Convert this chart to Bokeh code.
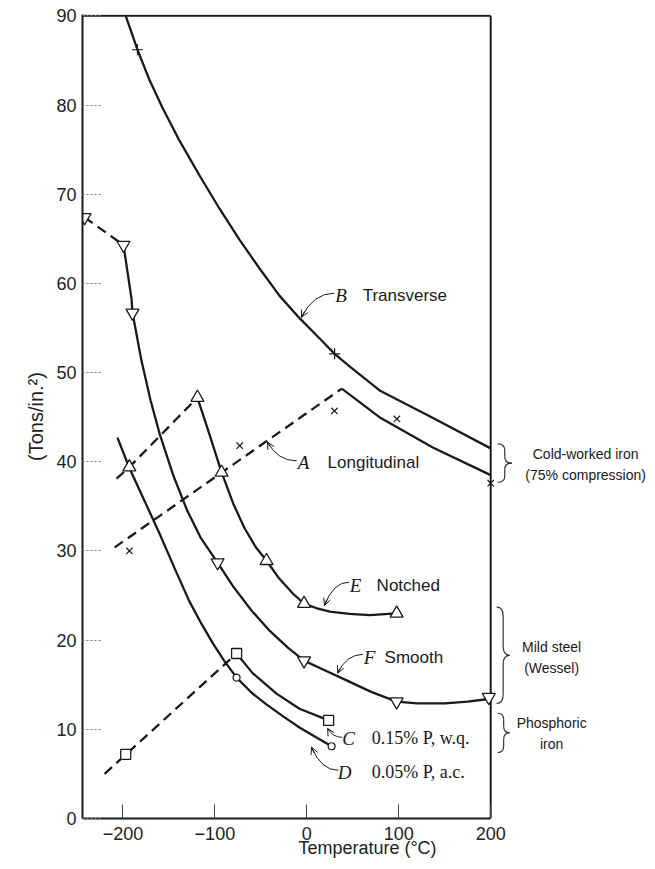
from bokeh.plotting import figure
from bokeh.models import Range1d, FixedTicker, Arrow, OpenHead
from bokeh.core.properties import value
from bokeh.embed import file_html
from bokeh.resources import INLINE

# ---------------- data ----------------
x_ticks = [-200, -100, 0, 100, 200]
x_tick_labels = ["\u2212200", "\u2212100", "0", "100", "200"]
y_ticks = [0, 10, 20, 30, 40, 50, 60, 70, 80, 90]

# B  Transverse (cold-worked iron)
b_x = [-197, -184.2, -171.1, -157.0, -138.5, -116.7, -95.1, -73.3, -51.6, -29.6, -7.9,
       16.1, 30.2, 46.5, 79.2, 133.6, 200]
b_y = [90.0, 86.2, 82.8, 79.7, 76.0, 72.1, 68.4, 64.9, 61.7, 58.6, 56.1,
       53.6, 52.1, 50.7, 48.0, 45.1, 41.5]
b_pts_x = [-184.2, 30.2]
b_pts_y = [86.2, 52.1]

# A  Longitudinal (cold-worked iron)
a_dash_x = [-209, 38]
a_dash_y = [30.4, 48.2]
a_x = [38, 79, 137, 200]
a_y = [48.2, 45.0, 41.6, 38.5]
a_pts_x = [-193, -73, 30, 98, 200]
a_pts_y = [30.0, 41.8, 45.7, 44.8, 37.6]

# E  Notched (mild steel)
e_dash_x = [-207, -193, -119]
e_dash_y = [38.1, 39.4, 47.2]
e_x = [-119, -106, -92.7, -80, -68, -56, -43.8, -30, -15, -3, 10, 25, 46.5, 68.3, 97.7]
e_y = [47.2, 43.1, 38.8, 35.3, 32.6, 30.5, 28.9, 26.9, 25.2, 24.1, 23.6, 23.2, 22.95, 22.8, 23.0]
e_pts_x = [-193, -119, -92.7, -43.8, -3, 97.7]
e_pts_y = [39.4, 47.2, 38.8, 28.9, 24.1, 23.0]

# F  Smooth (mild steel)
f_dash_x = [-241.8, -199.4]
f_dash_y = [67.4, 64.3]
f_x = [-199.4, -190.7, -189.6, -180, -170, -160, -145, -130, -115, -97.1, -80, -60, -40,
       -20, -3, 20, 45, 70, 97.7, 120, 150, 175, 198]
f_y = [64.3, 58.3, 56.7, 51.4, 46.9, 43.1, 38.4, 34.5, 31.4, 28.7, 26.0, 23.3, 21.0,
       19.1, 17.7, 16.6, 15.4, 14.2, 13.1, 12.9, 12.9, 13.1, 13.4]
f_pts_x = [-241.8, -199.4, -189.6, -97.1, -3, 97.7, 198]
f_pts_y = [67.4, 64.3, 56.7, 28.7, 17.7, 13.1, 13.6]

# C  0.15% P, w.q. (phosphoric iron)
c_dash_x = [-220, -76.4]
c_dash_y = [5.0, 18.5]
c_x = [-76.4, -59, -33, -8, 23.7]
c_y = [18.5, 16.3, 14.0, 12.3, 11.0]
c_pts_x = [-197, -76.4, 23.7]
c_pts_y = [7.2, 18.5, 11.0]

# D  0.05% P, a.c. (phosphoric iron)
d_x = [-206, -193, -176, -160, -144, -128, -115, -102, -90, -76.4, -60, -44, -25, -8, 10, 27]
d_y = [42.7, 39.3, 35.5, 31.9, 28.1, 24.4, 21.9, 19.6, 17.7, 15.8, 14.1, 12.8, 11.4, 10.2, 9.1, 8.1]
d_pts_x = [-76.4, 27]
d_pts_y = [15.8, 8.1]

# curve labels
letters = ["B", "A", "E", "F", "C", "D"]
letters_x = [37.3, -3.5, 53.1, 68.3, 45.4, 41.1]
letters_y = [58.6, 39.9, 26.1, 18.0, 9.0, 5.2]
words = ["Transverse", "Longitudinal", "Notched", "Smooth"]
words_x = [60.7, 22.6, 75.9, 84.6]
words_y = [58.6, 39.9, 26.1, 18.0]
serif_words = ["0.15% P, w.q.", "0.05% P, a.c."]
serif_x = [70.5, 70.5]
serif_y = [9.0, 5.2]

# pointer arrows (label -> curve)
ptr_x0 = [30.0, -11.0, 46.0, 61.0, 38.5, 34.5]
ptr_y0 = [58.9, 40.1, 26.5, 18.4, 9.1, 5.4]
ptr_x1 = [-5.7, -42.7, 19.3, 33.5, 22.6, 5.2]
ptr_y1 = [56.2, 42.2, 23.9, 16.3, 10.1, 8.0]

# side groups (braces + captions)
grp_text = ["Cold-worked iron", "(75% compression)", "Mild steel", "(Wessel)", "Phosphoric", "iron"]
grp_x = [303.3, 303.3, 266.3, 266.3, 266.3, 266.3]
grp_y = [40.9, 38.5, 19.2, 16.9, 10.7, 8.4]
brace_x0 = [207.6, 206.5, 207.6]
brace_tip = [223.0, 220.6, 220.6]
brace_lo = [37.7, 12.9, 7.4]
brace_hi = [42.0, 23.7, 11.8]

# ---------------- figure ----------------
INK = "#1a1a1a"
p = figure(width=652, height=866, output_backend="svg", toolbar_location=None,
           x_range=Range1d(-244, 376), y_range=Range1d(0, 90.15),
           min_border_left=82, min_border_right=0, min_border_top=14, min_border_bottom=48)
p.outline_line_color = None
p.xgrid.visible = False
p.ygrid.visible = False

# frame (top and right sides)
p.segment(x0=[-244, 200], y0=[90, 0], x1=[200, 200], y1=[90, 90], line_color=INK, line_width=2)

# axes
p.xaxis.ticker = FixedTicker(ticks=x_ticks)
p.xaxis.major_label_overrides = dict(zip(x_ticks, x_tick_labels))
p.xaxis.bounds = (-244, 200)
p.yaxis.ticker = FixedTicker(ticks=y_ticks)
for ax in (p.xaxis[0], p.yaxis[0]):
    ax.axis_line_width = 2
    ax.axis_line_color = INK
    ax.major_tick_out = 0
    ax.minor_tick_line_color = None
    ax.major_label_text_font = "Liberation Sans"
    ax.major_label_text_font_size = "18px"
    ax.major_label_text_color = "#222222"
    ax.axis_label_text_font = "Liberation Sans"
    ax.axis_label_text_font_size = "18px"
    ax.axis_label_text_font_style = "normal"
    ax.axis_label_text_color = "#222222"
p.yaxis.axis_label_text_font_size = "20px"
p.xaxis.major_tick_in = 14
p.xaxis.major_tick_line_color = "#444444"
p.yaxis.major_tick_in = 18
p.yaxis.major_tick_line_color = "#777777"
p.yaxis.major_tick_line_dash = "2 2"
p.xaxis.axis_label = "Temperature (\u00b0C)"
p.yaxis.axis_label = "(Tons/in.\u00b2)"
p.xaxis.major_label_standoff = 8
p.xaxis.axis_label_standoff = -5
p.yaxis.axis_label_standoff = 6
p.yaxis.major_label_standoff = 6

# curves
LW = 2.3
p.line(b_x, b_y, line_color=INK, line_width=LW)
p.line(a_dash_x, a_dash_y, line_color=INK, line_width=LW, line_dash="10 6")
p.line(a_x, a_y, line_color=INK, line_width=LW)
p.line(e_dash_x, e_dash_y, line_color=INK, line_width=LW, line_dash="10 6")
p.line(e_x, e_y, line_color=INK, line_width=LW)
p.line(f_dash_x, f_dash_y, line_color=INK, line_width=LW, line_dash="10 6")
p.line(f_x, f_y, line_color=INK, line_width=LW)
p.line(c_dash_x, c_dash_y, line_color=INK, line_width=LW, line_dash="10 6")
p.line(c_x, c_y, line_color=INK, line_width=LW)
p.line(d_x, d_y, line_color=INK, line_width=LW)

# markers
p.scatter(b_pts_x, b_pts_y, marker="cross", size=11, line_color=INK, line_width=1.2)
p.scatter(a_pts_x, a_pts_y, marker="x", size=9, line_color=INK, line_width=1.2)
p.scatter(e_pts_x, e_pts_y, marker="triangle", size=13, fill_color="white", line_color=INK, line_width=1.3)
p.scatter(f_pts_x, f_pts_y, marker="inverted_triangle", size=13, fill_color="white", line_color=INK, line_width=1.3)
p.scatter(c_pts_x, c_pts_y, marker="square", size=10, fill_color="white", line_color=INK, line_width=1.3)
p.scatter(d_pts_x, d_pts_y, marker="circle", size=7, fill_color="white", line_color=INK, line_width=1.2)

# labels
p.text(letters_x, letters_y, text=letters, text_font=value("Liberation Serif"), text_font_style="italic",
       text_font_size="19px", text_align="center", text_baseline="middle", text_color=INK)
p.text(words_x, words_y, text=words, text_font=value("Liberation Sans"),
       text_font_size="17px", text_align="left", text_baseline="middle", text_color=INK)
p.text(serif_x, serif_y, text=serif_words, text_font=value("Liberation Serif"),
       text_font_size="18px", text_align="left", text_baseline="middle", text_color=INK)
p.text(grp_x, grp_y, text=grp_text, text_font=value("Liberation Sans"),
       text_font_size="14px", text_align="center", text_baseline="middle", text_color=INK)

# pointer arrows (curved shaft + open head)
for x0, y0, x1, y1 in zip(ptr_x0, ptr_y0, ptr_x1, ptr_y1):
    cx = x1 + (x0 - x1) * 0.35
    cy = y0
    p.quadratic(x0=[x0], y0=[y0], x1=[x1], y1=[y1], cx=[cx], cy=[cy], line_color=INK, line_width=1)
    p.add_layout(Arrow(end=OpenHead(size=7, line_width=1, line_color=INK),
                       x_start=x1 + (cx - x1) * 0.25, y_start=y1 + (cy - y1) * 0.25,
                       x_end=x1, y_end=y1, line_color=INK, line_width=1))

# braces
for x0, tip, lo, hi in zip(brace_x0, brace_tip, brace_lo, brace_hi):
    xm = (x0 + tip) / 2
    ym = (lo + hi) / 2
    d = min(1.0, (hi - lo) / 6)
    p.quadratic(x0=[x0, xm, tip, xm], y0=[hi, ym + d, ym, lo + d],
                x1=[xm, tip, xm, x0], y1=[hi - d, ym, ym - d, lo],
                cx=[xm, xm, xm, xm], cy=[hi, ym, ym, lo], line_color="#333333", line_width=1.2)
    p.segment(x0=[xm, xm], y0=[hi - d, ym - d], x1=[xm, xm], y1=[ym + d, lo + d],
              line_color="#333333", line_width=1.2)

open("out.html", "w").write(file_html(p, INLINE))
